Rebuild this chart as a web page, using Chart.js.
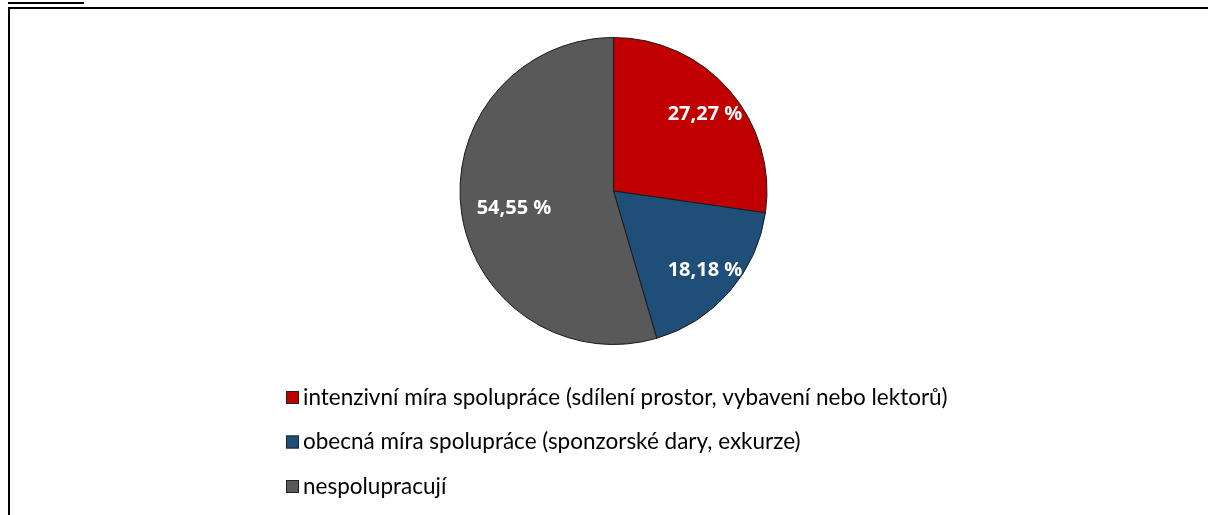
<!DOCTYPE html>
<html>
<head>
<meta charset="utf-8">
<script src="https://cdn.jsdelivr.net/npm/chart.js@4/dist/chart.umd.min.js"></script>
<style>
  html, body { margin: 0; padding: 0; background: #fff; overflow: hidden; }
  #frame { position: absolute; left: 8px; top: 7px; width: 1400px; height: 700px; border: 2px solid #000; }
  #mark { position: absolute; left: 8px; top: 2px; width: 76px; height: 0; border-top: 2px solid #000; }
  #chart { position: absolute; left: 0; top: 0; }
</style>
</head>
<body>
<div id="mark"></div>
<div id="frame"></div>
<canvas id="chart" width="1208" height="515"></canvas>
<script>
// categories and shares (%)
const labels = [
  'intenzivní míra spolupráce (sdílení prostor, vybavení nebo lektorů)',
  'obecná míra spolupráce (sponzorské dary, exkurze)',
  'nespolupracují'
];
const values = [27.27, 18.18, 54.55];
const colors = ['#C00000', '#1F4E79', '#595959'];

// percentage labels inside the slices
const sliceLabels = {
  id: 'sliceLabels',
  afterDatasetsDraw(chart, args, opts) {
    const ctx = chart.ctx;
    const meta = chart.getDatasetMeta(0);
    ctx.save();
    ctx.fillStyle = '#fff';
    ctx.font = 'bold 20px "Open Sans"';
    ctx.textAlign = 'center';
    ctx.textBaseline = 'middle';
    meta.data.forEach((arc, i) => {
      const mid = (arc.startAngle + arc.endAngle) / 2;
      const r = arc.outerRadius * opts.radius;
      const nudge = opts.nudge[i] || [0, 0];
      const x = arc.x + Math.cos(mid) * r + nudge[0];
      const y = arc.y + Math.sin(mid) * r + nudge[1];
      const txt = values[i].toFixed(2).replace('.', ',') + ' %';
      ctx.fillText(txt, x, y);
    });
    ctx.restore();
  }
};

// vertical legend below the pie
const sideLegend = {
  id: 'sideLegend',
  afterDraw(chart, args, opts) {
    const ctx = chart.ctx;
    ctx.save();
    ctx.font = opts.font;
    ctx.textBaseline = 'middle';
    chart.data.labels.forEach((lab, i) => {
      const y = opts.top + i * opts.step;
      ctx.fillStyle = chart.data.datasets[0].backgroundColor[i];
      ctx.fillRect(opts.left, y - 6.5, 13, 13);
      ctx.strokeStyle = '#222';
      ctx.lineWidth = 1;
      ctx.strokeRect(opts.left + 0.5, y - 6, 12, 12);
      ctx.fillStyle = '#000';
      ctx.fillText(lab, opts.left + 17, y);
    });
    ctx.restore();
  }
};

new Chart(document.getElementById('chart'), {
  type: 'pie',
  data: {
    labels: labels,
    datasets: [{
      data: values,
      backgroundColor: colors,
      borderColor: '#1a1a1a',
      borderWidth: 1
    }]
  },
  options: {
    responsive: false,
    animation: false,
    devicePixelRatio: 1,
    layout: { padding: { top: 37, bottom: 170, left: 19, right: 0 } },
    plugins: {
      legend: { display: false },
      tooltip: { enabled: false },
      sliceLabels: { radius: 0.78, nudge: [[1, 2], [1, 1], [19, 0]] },
      sideLegend: { left: 286, top: 397.5, step: 44.5, font: '22.5px Lato' }
    }
  },
  plugins: [sliceLabels, sideLegend]
});
</script>
</body>
</html>
